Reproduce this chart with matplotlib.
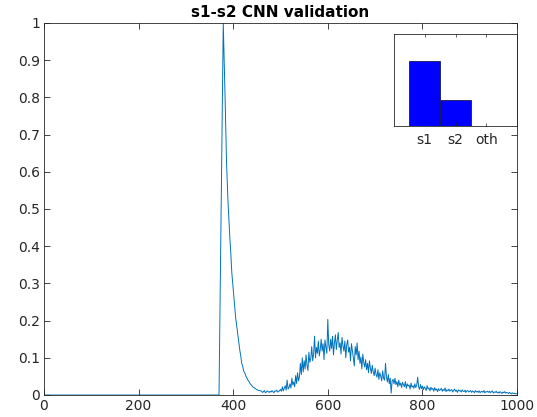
import numpy as np
import matplotlib
matplotlib.use("Agg")
import matplotlib.pyplot as plt

# ---- data ----
head_x = [0, 370, 379, 383, 386, 389, 391, 393, 395, 397, 399, 401, 403, 405,
          408, 410, 412, 414, 416, 418, 420, 422, 425, 427, 429, 431, 434, 436,
          439, 441, 444, 446, 449, 451, 454, 456, 458]
head_y = [0.0, 0.0, 1.0, 0.79, 0.62, 0.52, 0.47, 0.42, 0.38, 0.33, 0.30, 0.27,
          0.24, 0.21, 0.18, 0.16, 0.14, 0.12, 0.105, 0.085, 0.078, 0.065,
          0.058, 0.05, 0.046, 0.04, 0.035, 0.03, 0.026, 0.022, 0.02, 0.018,
          0.015, 0.014, 0.012, 0.012, 0.011]

tail_start, tail_step = 460, 2
tail_y = [
    0.010, 0.007, 0.009, 0.012, 0.006, 0.008, 0.011, 0.009, 0.007, 0.010,
    0.008, 0.012, 0.009, 0.006, 0.011, 0.010, 0.013, 0.008, 0.009, 0.012,
    0.015, 0.010, 0.022, 0.011, 0.018, 0.025, 0.013, 0.040, 0.016, 0.020,
    0.030, 0.019, 0.045, 0.027, 0.035, 0.022, 0.052, 0.031, 0.060, 0.038,
    0.048, 0.085, 0.055, 0.100, 0.062, 0.092, 0.070, 0.108, 0.080, 0.066,
    0.115, 0.088, 0.098, 0.130, 0.092, 0.110, 0.158, 0.100, 0.128, 0.112,
    0.145, 0.105, 0.122, 0.150, 0.118, 0.138, 0.095, 0.148, 0.128, 0.112,
    0.203, 0.135, 0.118, 0.150, 0.125, 0.158, 0.108, 0.140, 0.162, 0.122,
    0.148, 0.168, 0.128, 0.140, 0.110, 0.155, 0.132, 0.118, 0.145, 0.100,
    0.135, 0.148, 0.115, 0.128, 0.092, 0.138, 0.120, 0.100, 0.078, 0.130,
    0.108, 0.140, 0.095, 0.118, 0.085, 0.102, 0.070, 0.110, 0.088, 0.075,
    0.095, 0.068, 0.085, 0.060, 0.092, 0.072, 0.058, 0.080, 0.062, 0.052,
    0.072, 0.055, 0.048, 0.068, 0.042, 0.060, 0.050, 0.038, 0.065, 0.045,
    0.040, 0.085, 0.048, 0.035, 0.055, 0.030, 0.045, 0.005, 0.038, 0.042,
    0.030, 0.045, 0.028, 0.036, 0.022, 0.040, 0.026, 0.032, 0.020, 0.034,
    0.028, 0.022, 0.036, 0.018, 0.030, 0.024, 0.027, 0.016, 0.032, 0.021,
    0.025, 0.018, 0.030, 0.020, 0.026, 0.048, 0.022, 0.015, 0.028, 0.017,
    0.024, 0.014, 0.022, 0.018, 0.012, 0.025, 0.016, 0.019, 0.011, 0.021,
    0.015, 0.018, 0.010, 0.020, 0.013, 0.016, 0.009, 0.017, 0.012, 0.014,
    0.018, 0.010, 0.015, 0.012, 0.019, 0.009, 0.014, 0.011, 0.016, 0.010,
    0.013, 0.015, 0.008, 0.012, 0.016, 0.010, 0.013, 0.007, 0.014, 0.011,
    0.012, 0.008, 0.014, 0.010, 0.009, 0.013, 0.007, 0.011, 0.012, 0.008,
    0.010, 0.012, 0.007, 0.011, 0.009, 0.006, 0.012, 0.008, 0.010, 0.007,
    0.011, 0.006, 0.009, 0.010, 0.007, 0.012, 0.006, 0.009, 0.008, 0.010,
    0.007, 0.010, 0.006, 0.009, 0.011, 0.005, 0.008, 0.007, 0.010, 0.006,
    0.008, 0.005, 0.009, 0.007, 0.004, 0.008, 0.006, 0.009, 0.005, 0.007,
    0.006, 0.004, 0.007, 0.005, 0.003, 0.006, 0.004, 0.005, 0.003, 0.004,
    0.003,
]

classes = ["s1", "s2", "oth"]
class_frac = [0.71, 0.28, 0.005]

x_ticks = [0, 200, 400, 600, 800, 1000]
y_ticks = [0, 0.1, 0.2, 0.3, 0.4, 0.5, 0.6, 0.7, 0.8, 0.9, 1]
y_tick_labels = ["0", "0.1", "0.2", "0.3", "0.4", "0.5", "0.6", "0.7", "0.8", "0.9", "1"]

# ---- build series ----
tail_x = [tail_start + tail_step * i for i in range(len(tail_y))]
xs = head_x + tail_x
ys = head_y + tail_y

plt.rcParams['font.family'] = ['DejaVu Sans']
W, H = 537, 417
fig = plt.figure(figsize=(W / 100, H / 100), dpi=100)

axc = "#262626"
ax = fig.add_axes([44 / W, 1 - 395 / H, (517 - 44) / W, (395 - 23) / H])
ax.plot(xs, ys, color="#0072BD", lw=0.7)
ax.set_xlim(0, 1000)
ax.set_ylim(0, 1)
ax.set_xticks(x_ticks)
ax.set_yticks(y_ticks)
ax.set_yticklabels(y_tick_labels)
ax.tick_params(direction="in", length=4, width=0.6, top=True, right=True,
               labelsize=10, colors=axc, pad=3)
for s in ax.spines.values():
    s.set_color(axc)
    s.set_linewidth(0.6)
ax.set_title("s1-s2 CNN validation", fontsize=11, fontweight="bold",
             color="black", pad=4)

# inset
ai = fig.add_axes([394 / W, 1 - 126 / H, (517 - 394) / W, (126 - 34) / H])
ai.bar([1, 2, 3], class_frac, width=1.0, color="#0000FF",
       edgecolor="#1a1a4d", linewidth=0.6)
ai.set_xlim(0, 4)
ai.set_ylim(0, 1)
ai.set_xticks([1, 2, 3])
ai.set_xticklabels(classes)
ai.set_yticks([])
ai.tick_params(direction="in", length=2, width=0.5, top=True,
               labelsize=10, colors=axc, pad=5)
for s in ai.spines.values():
    s.set_color(axc)
    s.set_linewidth(0.6)

fig.savefig("out.png", dpi=100)
